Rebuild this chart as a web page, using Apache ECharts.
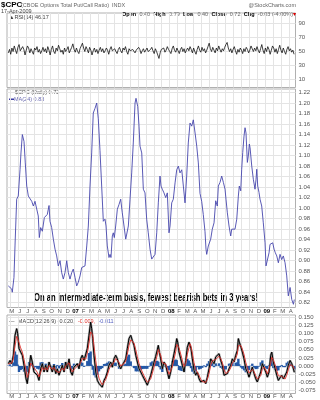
<!DOCTYPE html>
<html><head><meta charset="utf-8">
<script src="https://cdn.jsdelivr.net/npm/echarts@6/dist/echarts.min.js"></script>
<style>html,body{margin:0;padding:0;background:#fff}#c{width:320px;height:400px}</style>
</head><body><div id="c"></div><script>
// ---- x axis: months since May 2006 ----
const monthLabels = ['M','J','J','A','S','O','N','D','07','F','M','A','M','J','J','A','S','O','N','D','08','F','M','A','M','J','J','A','S','O','N','D','09','F','M','A'];
const yearLabels = ['07','08','09'];

// ---- main panel: MA(24) of $CPC (time in months, value) ----
const mainT = [
 -0.25,0.18,0.25,0.46,0.59,0.80,1.00,1.22,1.34,1.51,
 1.72,1.88,2.06,2.13,2.26,2.47,2.69,2.89,3.10,3.31,
 3.51,3.64,3.81,4.02,4.27,4.44,4.64,4.86,4.98,5.19,
 5.40,5.61,5.82,6.02,6.24,6.45,6.65,6.86,7.08,7.28,
 7.49,7.70,7.90,8.12,8.33,8.53,8.75,8.96,9.16,9.37,
 9.59,9.79,10.00,10.21,10.41,10.63,10.84,10.92,11.04,11.25,
 11.47,11.67,11.88,12.01,12.17,12.38,12.51,12.63,12.80,12.92,
 13.05,13.22,13.43,13.64,13.85,14.05,14.27,14.48,14.61,14.81,
 15.02,15.23,15.43,15.65,15.77,15.86,15.99,16.15,16.27,16.49,
 16.69,16.90,17.11,17.31,17.53,17.74,17.94,18.16,18.37,18.57,
 18.78,18.91,19.07,19.28,19.50,19.70,19.91,20.04,20.25,20.45,
 20.67,20.88,21.08,21.29,21.51,21.71,21.92,22.13,22.33,22.55,
 22.76,22.96,23.18,23.39,23.59,23.80,24.01,24.21,24.43,24.55,
 24.64,24.84,24.97,25.14,25.34,25.56,25.77,25.97,26.10,26.31,
 26.52,26.73,26.94,27.06,27.23,27.44,27.65,27.78,27.98,28.19,
 28.41,28.61,28.73,28.91,29.03,29.16,29.32,29.45,29.57,29.74,
 29.86,29.99,30.08,30.29,30.49,30.70,30.83,30.92,31.04,31.20,
 31.33,31.54,31.74,31.96,32.08,32.25,32.46,32.58,32.80,32.92,
 33.09,33.25,33.43,33.63,33.84,34.05,34.25,34.47,34.68,34.88,
 35.10,35.31,35.52,35.63];
const mainV = [
 0.852,0.846,0.840,0.868,0.928,1.017,1.023,1.073,1.105,1.140,
 1.127,1.086,1.042,1.036,1.023,1.026,1.013,1.004,1.013,1.010,
 0.985,0.944,0.963,0.956,0.982,0.979,0.988,1.005,0.975,0.963,
 0.941,0.922,0.909,0.890,0.900,0.877,0.865,0.877,0.900,0.877,
 0.865,0.877,0.884,0.868,0.852,0.859,0.871,0.887,0.884,0.890,
 0.928,0.966,1.042,1.105,1.181,1.190,1.200,1.203,1.170,1.110,
 1.040,0.975,0.979,0.966,0.928,0.906,0.912,0.906,0.947,0.953,
 0.944,0.966,0.998,1.007,1.017,0.991,0.988,0.941,0.938,0.966,
 1.017,1.067,1.124,1.200,1.209,1.212,1.193,1.156,1.118,1.105,
 1.036,1.029,0.979,0.953,0.922,0.903,0.906,0.912,0.953,1.010,
 1.061,1.042,1.036,1.029,1.020,1.029,0.953,0.966,1.010,1.017,
 1.048,1.073,1.080,1.067,1.073,1.042,1.010,1.061,1.124,1.162,
 1.156,1.168,1.143,1.118,1.086,1.028,1.013,0.988,0.955,0.922,
 0.912,0.928,0.925,0.941,0.960,0.972,1.014,1.004,1.042,1.049,
 1.061,1.049,1.036,1.017,0.991,0.966,0.947,0.960,0.963,0.960,
 0.979,1.023,1.042,1.033,1.074,1.106,1.137,1.153,1.143,1.087,
 1.099,1.122,1.115,1.080,1.055,1.036,1.055,1.074,1.042,1.030,
 1.017,1.004,0.972,0.934,0.890,0.893,0.915,0.931,0.928,0.934,
 0.922,0.915,0.909,0.896,0.912,0.902,0.909,0.896,0.871,0.833,
 0.849,0.826,0.817,0.826];
const mainTicks = [0.82,0.84,0.86,0.88,0.90,0.92,0.94,0.96,0.98,1.00,1.02,1.04,1.06,1.08,1.10,1.12,1.14,1.16,1.18,1.20,1.22];

// ---- RSI(14) panel ----
const rsiStart = -0.25, rsiStep = 0.15;
const rsiV = [
 48,53,46,55,50,58,52,47,56,60,51,49,57,53,45,52,58,55,48,54,50,46,55,52,57,49,53,47,51,56,
 50,54,48,57,52,45,53,58,50,47,55,51,59,54,49,52,46,55,50,53,57,48,52,56,61,53,49,55,50,47,
 54,58,62,55,50,57,53,48,56,52,45,51,55,49,53,47,52,56,50,54,48,51,55,52,46,53,57,51,49,54,
 50,47,53,56,51,48,55,52,57,50,46,54,51,49,53,55,48,52,50,56,53,47,51,54,49,52,55,50,48,53,
 56,51,47,54,50,45,40,48,53,51,55,49,52,57,53,50,47,54,58,52,49,55,51,47,53,56,50,54,48,52,
 55,51,57,53,48,55,50,46,53,58,52,49,56,51,54,48,52,57,62,54,50,56,52,48,55,51,58,53,49,54,
 51,56,60,63,55,50,54,48,53,57,51,46,53,49,55,52,47,54,50,56,53,48,52,58,54,50,55,51,57,52,
 48,54,60,52,47,55,50,57,53,46,52,58,55,49,54,47,53,59,52,48,55,50,46,53,57,51,54,49,52,46];
const rsiTicks = [10,30,50,70,90];

// ---- MACD(12,26,9) panel ----
const macdT = [
 -0.25,-0.04,0.18,0.38,0.59,0.80,0.93,1.09,1.30,1.51,
 1.72,1.97,2.13,2.35,2.56,2.76,2.97,3.19,3.39,3.60,
 3.81,4.02,4.23,4.44,4.64,4.86,5.07,5.27,5.48,5.70,
 5.90,6.11,6.32,6.52,6.74,6.95,7.15,7.37,7.58,7.78,
 7.99,8.21,8.41,8.62,8.83,9.03,9.25,9.46,9.66,9.87,
 10.08,10.21,10.34,10.50,10.72,10.92,11.13,11.34,11.54,11.76,
 11.97,12.17,12.38,12.60,12.80,13.01,13.22,13.43,13.64,13.85,
 14.05,14.27,14.48,14.68,14.89,15.11,15.31,15.52,15.74,15.94,
 16.15,16.36,16.56,16.78,16.99,17.19,17.40,17.62,17.82,18.03,
 18.24,18.44,18.57,18.70,18.87,19.07,19.28,19.50,19.70,19.91,
 20.12,20.33,20.54,20.75,20.88,21.00,21.17,21.38,21.58,21.80,
 22.01,22.21,22.42,22.55,22.67,22.84,23.05,23.26,23.46,23.68,
 23.89,24.09,24.30,24.52,24.72,24.93,25.14,25.34,25.56,25.77,
 25.97,26.19,26.40,26.60,26.81,27.03,27.23,27.44,27.65,27.86,
 28.07,28.28,28.48,28.61,28.73,28.94,29.11,29.32,29.54,29.74,
 29.95,30.16,30.36,30.58,30.79,30.99,31.20,31.42,31.62,31.83,
 32.05,32.25,32.46,32.67,32.80,33.00,33.22,33.43,33.63,33.84,
 34.05,34.25,34.47,34.68,34.88,35.10,35.31,35.52,35.63];
const macdV = [
 0.007,0.017,0.007,0.033,0.095,0.116,0.100,0.054,0.043,0.033,
 0.002,-0.040,-0.055,-0.009,0.033,0.012,-0.019,-0.014,-0.029,-0.045,
 -0.009,0.007,-0.019,0.002,-0.019,0.012,-0.004,-0.019,0.002,-0.024,
 -0.009,-0.029,-0.014,0.002,-0.019,0.012,-0.009,0.022,-0.019,-0.029,
 -0.004,-0.009,0.007,-0.009,0.022,0.033,0.017,0.022,0.054,0.095,
 0.136,0.116,0.085,0.033,-0.019,-0.045,-0.055,-0.060,-0.066,-0.045,
 -0.035,-0.019,0.002,0.012,-0.004,0.022,0.033,0.022,0.002,-0.009,
 0.002,0.012,0.022,0.054,0.085,0.095,0.079,0.064,0.033,0.012,
 -0.009,-0.019,-0.029,-0.040,-0.050,-0.060,-0.055,-0.029,-0.009,0.012,
 0.030,0.050,0.064,0.043,0.022,-0.009,0.012,0.002,-0.019,-0.040,
 -0.019,0.012,0.038,0.064,0.085,0.074,0.043,0.022,0.002,-0.019,
 0.017,0.058,0.074,0.079,0.054,0.022,-0.014,-0.029,-0.019,-0.040,
 -0.050,-0.055,-0.045,-0.055,-0.035,-0.009,0.022,0.028,0.007,0.028,
 0.022,0.038,0.017,0.002,-0.029,-0.035,-0.024,-0.009,0.002,0.022,
 0.012,0.033,0.048,0.085,0.074,0.058,0.043,0.022,-0.009,-0.019,
 -0.035,-0.019,-0.004,-0.024,-0.040,-0.050,-0.045,-0.019,0.007,0.002,
 -0.019,-0.035,-0.019,0.033,0.043,0.012,-0.009,-0.029,-0.045,-0.040,
 -0.029,-0.040,-0.045,-0.019,0.002,0.017,0.007,-0.009,-0.020];
const signalV = [
 0.006,0.012,0.009,0.022,0.062,0.092,0.096,0.073,0.056,0.043,
 0.020,-0.013,-0.036,-0.021,0.009,0.011,-0.006,-0.010,-0.020,-0.034,
 -0.020,-0.005,-0.013,-0.005,-0.013,0.001,-0.002,-0.011,-0.004,-0.015,
 -0.012,-0.021,-0.017,-0.007,-0.014,0.000,-0.005,0.010,-0.006,-0.019,
 -0.011,-0.010,-0.001,-0.005,0.010,0.023,0.020,0.021,0.039,0.070,
 0.106,0.112,0.097,0.062,0.017,-0.017,-0.038,-0.050,-0.059,-0.051,
 -0.042,-0.029,-0.012,0.001,-0.002,0.011,0.023,0.022,0.011,0.000,
 0.001,0.007,0.015,0.036,0.063,0.081,0.080,0.071,0.050,0.029,
 0.008,-0.007,-0.019,-0.031,-0.041,-0.051,-0.053,-0.040,-0.023,-0.004,
 0.015,0.034,0.051,0.047,0.033,0.010,0.011,0.006,-0.008,-0.026,
 -0.022,-0.003,0.020,0.044,0.067,0.071,0.056,0.037,0.018,-0.002,
 0.008,0.036,0.057,0.069,0.061,0.040,0.010,-0.011,-0.015,-0.029,
 -0.041,-0.049,-0.047,-0.051,-0.042,-0.024,0.001,0.016,0.011,0.020,
 0.021,0.030,0.023,0.011,-0.011,-0.024,-0.024,-0.016,-0.006,0.009,
 0.011,0.023,0.037,0.063,0.069,0.063,0.052,0.036,0.011,-0.005,
 -0.022,-0.020,-0.011,-0.018,-0.030,-0.041,-0.043,-0.030,-0.010,-0.003,
 -0.012,-0.025,-0.022,0.008,0.027,0.019,0.004,-0.014,-0.031,-0.036,
 -0.032,-0.036,-0.041,-0.029,-0.012,0.004,0.006,-0.002,-0.009];
const histV = [
 0.001,0.005,-0.002,0.011,0.045,0.035,0.004,-0.019,-0.013,-0.010,
 -0.018,-0.027,-0.019,0.012,0.024,0.001,-0.013,-0.004,-0.009,-0.011,
 0.011,0.012,-0.006,0.007,-0.006,0.011,-0.002,-0.008,0.006,-0.009,
 0.003,-0.008,0.003,0.009,-0.005,0.012,-0.004,0.012,-0.013,-0.010,
 0.007,0.001,0.008,-0.004,0.012,0.010,-0.003,0.001,0.015,0.040,
 0.045,0.004,-0.012,-0.029,-0.036,-0.028,-0.017,-0.010,-0.007,0.006,
 0.007,0.010,0.014,0.011,-0.002,0.011,0.010,0.000,-0.009,-0.009,
 0.001,0.005,0.007,0.030,0.035,0.014,-0.001,-0.007,-0.017,-0.017,
 -0.017,-0.012,-0.010,-0.009,-0.009,-0.009,-0.002,0.011,0.014,0.016,
 0.015,0.016,0.013,-0.004,-0.011,-0.019,0.001,-0.004,-0.011,-0.014,
 0.003,0.015,0.018,0.020,0.018,0.003,-0.013,-0.015,-0.016,-0.017,
 0.009,0.022,0.017,0.010,-0.007,-0.018,-0.024,-0.018,-0.004,-0.011,
 -0.009,-0.006,0.002,-0.004,0.007,0.015,0.021,0.012,-0.004,0.008,
 0.001,0.008,-0.006,-0.009,-0.018,-0.011,0.000,0.007,0.008,0.013,
 0.001,0.010,0.011,0.022,0.005,-0.005,-0.009,-0.014,-0.020,-0.014,
 -0.013,0.001,0.007,-0.006,-0.010,-0.009,-0.002,0.011,0.017,0.005,
 -0.007,-0.010,0.003,0.025,0.016,-0.007,-0.013,-0.015,-0.014,-0.004,
 0.003,-0.004,-0.004,0.010,0.014,0.013,0.001,-0.007,-0.011];
const macdTicks = [-0.075,-0.05,-0.025,0,0.025,0.05,0.075,0.1,0.125,0.15];

// ---- build ----
const zip = (t, v) => v.map((y, i) => [t[i], y]);
const rsiData = rsiV.map((v, i) => [rsiStart + i * rsiStep, v]);
const monthTicks = monthLabels.map((_, i) => i);

const X_MIN = -0.414, X_MAX = 35.78;
const GRID_LINE = '#e4e4e4', LABEL = '#555', FF = 'Liberation Sans, Arial, sans-serif';

function xAxis(gi, showLabels, margin) {
  return {
    type: 'value', gridIndex: gi, min: X_MIN, max: X_MAX,
    axisLine: { show: false },
    axisTick: { show: false, customValues: monthTicks },
    axisLabel: {
      show: showLabels, customValues: monthTicks, margin: margin,
      fontSize: 6, fontFamily: FF, color: LABEL, padding: [0, 0, 0, 3],
      formatter: v => {
        const s = monthLabels[Math.round(v)] || '';
        return yearLabels.indexOf(s) >= 0 ? '{y|' + s + '}' : s;
      },
      rich: { y: { fontSize: 6, fontWeight: 'bold', color: '#000', fontFamily: FF } }
    },
    splitLine: { show: true, lineStyle: { color: GRID_LINE, width: 1 } }
  };
}
function yAxis(gi, min, max, ticks, fmt) {
  return {
    type: 'value', gridIndex: gi, position: 'right', min: min, max: max, scale: true,
    axisLine: { show: false },
    axisTick: { show: false, customValues: ticks },
    axisLabel: { customValues: ticks, margin: 3, fontSize: 6, fontFamily: FF, color: LABEL, formatter: fmt },
    splitLine: { show: true, lineStyle: { color: GRID_LINE, width: 1 } }
  };
}

// big annotation: drawn large, then scaled down to a condensed look
const bigText = 'On an intermediate-term basis, fewest bearish bets in 3 years!';
const BIG_PX = 40;
const bigFont = 'bold ' + BIG_PX + 'px "Liberation Sans Narrow", "Liberation Sans", Arial, sans-serif';
const mctx = document.createElement('canvas').getContext('2d');
mctx.font = bigFont;
const bigScaleX = 224 / mctx.measureText(bigText).width;
const bigScaleY = 10.4 / BIG_PX;

const chart = echarts.init(document.getElementById('c'), null, { renderer: 'canvas' });
const gridBox = { show: true, borderColor: '#b0b0b0', borderWidth: 1, backgroundColor: '#fff' };
chart.setOption({
  animation: false,
  backgroundColor: '#fff',
  grid: [
    Object.assign({ left: 7, right: 24.5, top: 13, height: 74.5 }, gridBox),
    Object.assign({ left: 7, right: 24.5, top: 89, height: 218.5 }, gridBox),
    Object.assign({ left: 7, right: 24.5, top: 315, height: 78.5 }, gridBox)
  ],
  xAxis: [xAxis(0, false, 0), xAxis(1, true, 1), xAxis(2, true, 0)],
  yAxis: [
    yAxis(0, -1.8, 105.4, rsiTicks, v => String(Math.round(v))),
    yAxis(1, 0.8109, 1.2267, mainTicks, v => v.toFixed(2)),
    yAxis(2, -0.0858, 0.1583, macdTicks, v => v.toFixed(3))
  ],
  series: [
    { type: 'line', xAxisIndex: 0, yAxisIndex: 0, data: rsiData, showSymbol: false,
      lineStyle: { color: '#111', width: 0.8 }, silent: true },
    { type: 'line', xAxisIndex: 1, yAxisIndex: 1, data: zip(mainT, mainV), showSymbol: false,
      lineStyle: { color: '#4646ad', width: 0.9 }, silent: true },
    { type: 'bar', xAxisIndex: 2, yAxisIndex: 2, data: zip(macdT, histV), barWidth: 2.4,
      itemStyle: { color: '#2458a6' }, silent: true },
    { type: 'line', xAxisIndex: 2, yAxisIndex: 2, data: zip(macdT, macdV), showSymbol: false,
      lineStyle: { color: '#9a9a9a', width: 2.2 }, silent: true },
    { type: 'line', xAxisIndex: 2, yAxisIndex: 2, data: zip(macdT, macdV), showSymbol: false,
      lineStyle: { color: '#000', width: 1 }, silent: true },
    { type: 'line', xAxisIndex: 2, yAxisIndex: 2, data: zip(macdT, signalV), showSymbol: false,
      lineStyle: { color: '#e0302a', width: 0.9 }, silent: true }
  ],
  graphic: [
    { type: 'text', x: 1, y: 0.5, style: { text: '$CPC', fontSize: 8, fontWeight: 'bold', fontFamily: FF, fill: '#000', verticalAlign: 'top' } },
    { type: 'text', x: 21, y: 2, style: { text: '(CBOE Options Total Put/Call Ratio)  INDX', fontSize: 5.5, fontFamily: FF, fill: '#666', verticalAlign: 'top' } },
    { type: 'text', x: 296, y: 2, style: { text: '@StockCharts.com', fontSize: 5.5, fontFamily: FF, fill: '#666', align: 'right', verticalAlign: 'top' } },
    { type: 'text', x: 1, y: 8, style: { text: '17-Apr-2009', fontSize: 5.5, fontFamily: FF, fill: '#444', verticalAlign: 'top' } },
    { type: 'text', x: 296, y: 8, style: {
        text: '{b|Open} {v|0.40} {b|High} {v|0.79} {b|Low} {v|0.40} {b|Close} {v|0.72} {b|Chg} {v|-0.03 (-4.00%)}{r|▾}',
        align: 'right', verticalAlign: 'top',
        rich: { b: { fontSize: 5.5, fontWeight: 'bold', fontFamily: FF, fill: '#000' },
                v: { fontSize: 5.5, fontFamily: FF, fill: '#666' },
                r: { fontSize: 5.5, fontFamily: FF, fill: '#d00' } } } },
    { type: 'text', x: 9, y: 14, style: { text: '▲RSI(14) 46.17', fontSize: 5.5, fontFamily: FF, fill: '#444', verticalAlign: 'top' } },
    { type: 'text', x: 15, y: 89.5, style: { text: '$CPC (Daily) 0.72', fontSize: 5.5, fontFamily: FF, fill: '#555', verticalAlign: 'top' } },
    { type: 'text', x: 9, y: 96, style: { text: '{l|▬}{t|MA(24) 0.83}', verticalAlign: 'top',
        rich: { l: { fontSize: 5, fill: '#3b3ba6' }, t: { fontSize: 5.5, fontFamily: FF, fill: '#6a6ab0' } } } },
    { type: 'text', x: 9, y: 315.5, style: { text: '{k|—} {k|MACD(12,26,9) -0.020,} {r|-0.009,} {b|-0.011}', verticalAlign: 'top',
        rich: { k: { fontSize: 5.5, fontFamily: FF, fill: '#444' }, r: { fontSize: 5.5, fontFamily: FF, fill: '#e0302a' }, b: { fontSize: 5.5, fontFamily: FF, fill: '#5560c0' } } } },
    { type: 'text', x: 34, y: 298, scaleX: bigScaleX, scaleY: bigScaleY,
      style: { text: bigText, font: bigFont, fill: '#000', verticalAlign: 'middle' } }
  ]
});
</script></body></html>
